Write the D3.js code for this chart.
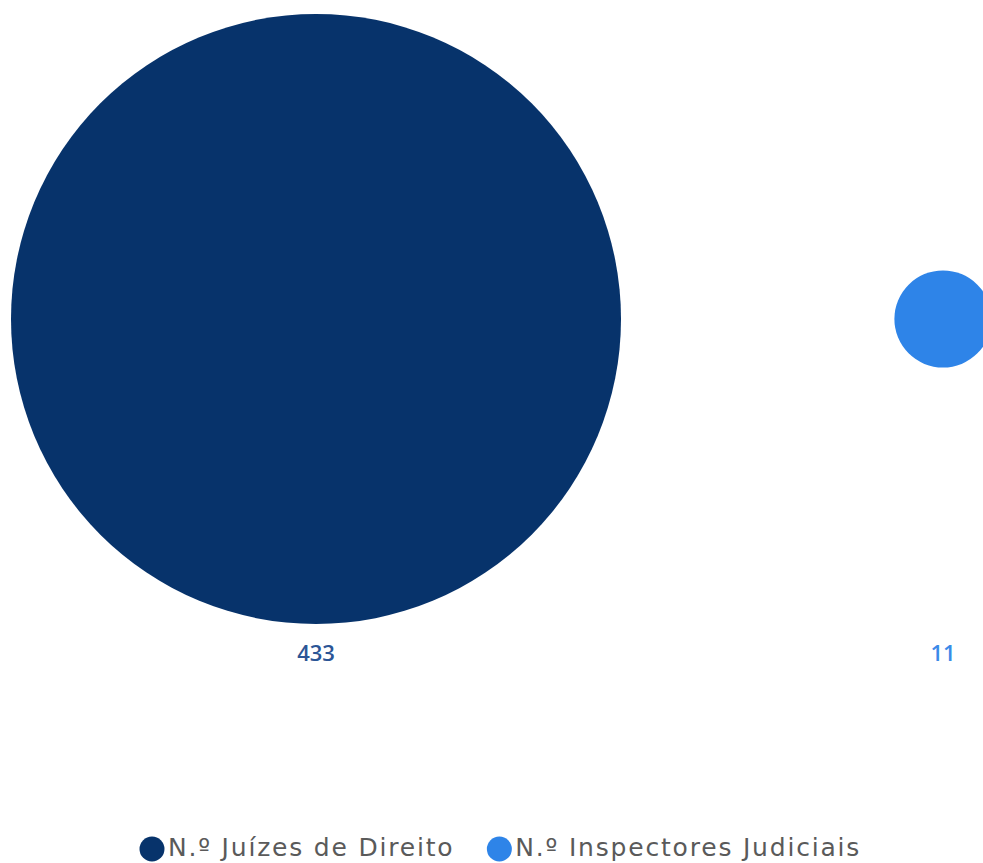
<!DOCTYPE html>
<html>
  <head>
    <meta charset="utf-8" />
    <title>Juízes e Inspectores</title>
    <script src="https://d3js.org/d3.v7.min.js"></script>
    <style>
      body { margin: 0; background: #fff; }
    </style>
  </head>
  <body>
    <svg width="983" height="863"></svg>
    <script>
      // Data
      var categories = ["N.º Juízes de Direito", "N.º Inspectores Judiciais"];
      var values = [433, 11];
      var colors = ["#07336b", "#2e84e8"];
      var labelColors = ["#2b5596", "#3a8ae8"];

      var svg = d3.select("svg");

      // centres along the row
      var x = d3.scalePoint().domain(categories).range([316, 943]);
      // area proportional to value
      var r = d3.scaleSqrt().domain([0, 433]).range([0, 305]);
      var cy = 319;

      svg.selectAll(".bubble")
        .data(categories)
        .enter()
        .append("circle")
        .attr("class", "bubble")
        .attr("cx", function (d) { return x(d); })
        .attr("cy", cy)
        .attr("r", function (d, i) { return r(values[i]); })
        .attr("fill", function (d, i) { return colors[i]; });

      // value labels
      svg.selectAll(".val")
        .data(categories)
        .enter()
        .append("text")
        .attr("class", "val")
        .attr("x", function (d) { return x(d); })
        .attr("y", 661)
        .attr("text-anchor", "middle")
        .style("font-family", "Open Sans, sans-serif")
        .style("font-size", "22px")
        .style("font-weight", "600")
        .style("fill", function (d, i) { return labelColors[i]; })
        .text(function (d, i) { return values[i]; });

      // legend, laid out left to right
      var legend = svg.append("g").attr("transform", "translate(152,849)");
      var pos = 0;
      categories.forEach(function (d, i) {
        var item = legend.append("g").attr("transform", "translate(" + pos + ",0)");
        item.append("circle")
          .attr("r", 12.5)
          .attr("fill", colors[i]);
        var t = item.append("text")
          .attr("x", 16)
          .attr("y", 7)
          .style("font-family", "DejaVu Sans, sans-serif")
          .style("font-size", "25px")
          .style("letter-spacing", "1.8px")
          .style("fill", "#5a5a5a")
          .text(d);
        pos += 16 + t.node().getComputedTextLength() + 45;
      });
    </script>
  </body>
</html>
